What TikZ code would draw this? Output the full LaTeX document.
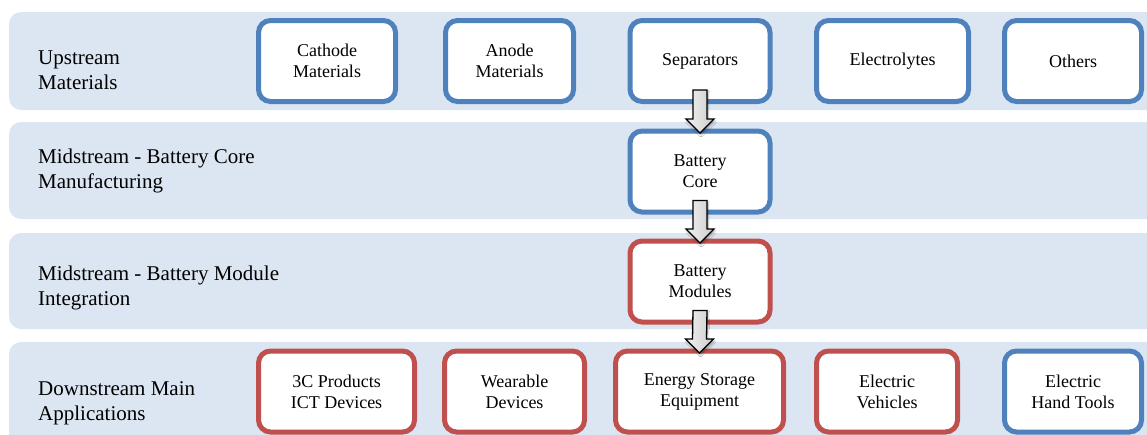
\documentclass[tikz,border=0pt]{standalone}
\usepackage{fontspec}
\setmainfont{Liberation Serif}
\usetikzlibrary{calc, shadows.blur}
\definecolor{bandBg}{RGB}{220,230,242}
\definecolor{chainBlue}{RGB}{79,129,189}
\definecolor{chainRed}{RGB}{192,80,77}

\begin{document}
\begin{tikzpicture}[x=1pt, y=-1pt,
    band/.style={fill=bandBg, draw=none, rounded corners=12pt},
    stage/.style={font=\rmfamily\fontsize{21}{25}\selectfont, align=left,
                  anchor=west, inner sep=0pt},
    item/.style={draw=#1, fill=white, line width=5pt, rounded corners=12pt,
                 align=center, minimum height=81pt,
                 font=\rmfamily\fontsize{18}{21}\selectfont},
    blockarr/.style={draw=black, line width=1.3pt, line join=miter,
                 left color=gray!10, right color=gray!40,
                 blur shadow={shadow xshift=1pt, shadow yshift=-2pt,
                              shadow blur steps=6, shadow opacity=35}}]
\clip (0,0) rectangle (1147,434);

% BANDS
\foreach \t/\b in {12/110, 122/219, 233/329, 342/470}
   \path[band] (9,\t) rectangle (1170,\b);

% STAGE LABELS
\node[stage] (lblUp)   at (38,70)    {Upstream\\Materials};
\node[stage] (lblCore) at (38,170.5) {Midstream - Battery Core\\Manufacturing};
\node[stage] (lblMod)  at (38,288)   {Midstream - Battery Module\\Integration};
\node[stage] (lblDown) at (38,403)   {Downstream Main\\Applications};

% UPSTREAM
\node[item=chainBlue, minimum width=137pt] (cath) at (327,61)   {Cathode\\Materials};
\node[item=chainBlue, minimum width=128pt] (anod) at (509.5,61) {Anode\\Materials};
\node[item=chainBlue, minimum width=140pt] (sep)  at (700,61)   {Separators};
\node[item=chainBlue, minimum width=152pt] (elec) at (892.5,61) {Electrolytes};
\node[item=chainBlue, minimum width=137pt] (oth)  at (1073,61)  {Others};

% MIDSTREAM
\node[item=chainBlue, minimum width=140pt] (core) at (700,171.5) {Battery\\Core};
\node[item=chainRed,  minimum width=140pt] (mod)  at (700,281.5) {Battery\\Modules};

% DOWNSTREAM
\node[item=chainRed,  minimum width=156pt] (ict)  at (336.5,391.5) {3C Products\\ICT Devices};
\node[item=chainRed,  minimum width=140pt] (wear) at (514.5,391.5) {Wearable\\Devices};
\node[item=chainRed,  minimum width=168pt] (ess)  at (699.5,391.5) {Energy Storage\\Equipment};
\node[item=chainRed,  minimum width=141pt] (ev)   at (887,391.5)   {Electric\\Vehicles};
\node[item=chainBlue, minimum width=137pt] (tool) at (1073,391.5)  {Electric\\Hand Tools};

% Flow arrows
\foreach \a/\b in {sep/core, core/mod, mod/ess}
   \filldraw[blockarr] ($(\a.south)+(-7,-14)$) -- ($(\a.south)+(7,-14)$)
      -- ($(\b.north)+(7,-9.5)$) -- ($(\b.north)+(14,-9.5)$) -- ($(\b.north)+(0,4.5)$)
      -- ($(\b.north)+(-14,-9.5)$) -- ($(\b.north)+(-7,-9.5)$) -- cycle;

\end{tikzpicture}
\end{document}
